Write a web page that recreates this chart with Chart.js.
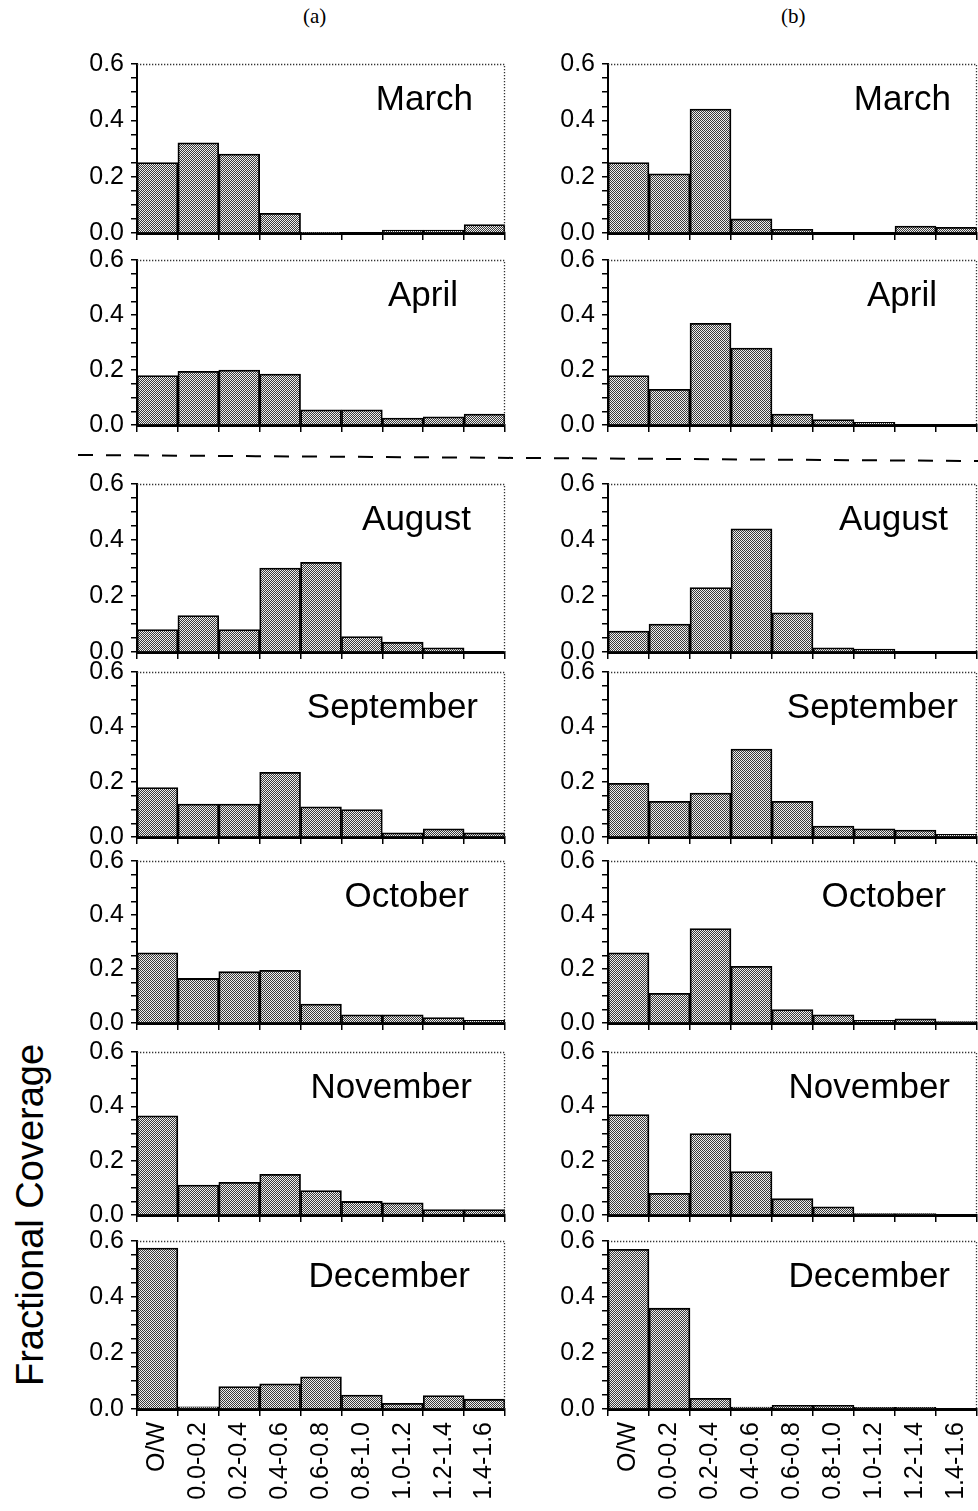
<!DOCTYPE html>
<html>
<head>
<meta charset="utf-8">
<script src="https://cdn.jsdelivr.net/npm/chart.js@4.4.1/dist/chart.umd.min.js"></script>
<style>
  body { margin: 0; width: 978px; height: 1511px; background: #fff; position: relative; overflow: hidden;
         font-family: "Liberation Sans", Arial, sans-serif; }
  canvas { position: absolute; }
  .colhead { position: absolute; top: 4px; font: 21px "Liberation Serif", "Times New Roman", serif; }
  #ytitle { position: absolute; left: 30px; top: 1215px; transform: translate(-50%, -50%) rotate(-90deg);
            font-size: 38px; white-space: nowrap; }
  #divider { position: absolute; left: 0; top: 0; }
</style>
</head>
<body>
<div class="colhead" style="left:303px">(a)</div>
<div class="colhead" style="left:781px">(b)</div>
<div id="ytitle">Fractional Coverage</div>
<svg id="divider" width="978" height="480">
  <line x1="78" y1="455" x2="978" y2="461" stroke="#000" stroke-width="2" stroke-dasharray="15 13"/>
</svg>

<script>
const bins = ['O/W', '0.0-0.2', '0.2-0.4', '0.4-0.6', '0.6-0.8', '0.8-1.0', '1.0-1.2', '1.2-1.4', '1.4-1.6'];
const months = ['March', 'April', 'August', 'September', 'October', 'November', 'December'];
const yTicks = [0, 0.2, 0.4, 0.6];

// column (a)
const marA = [0.25, 0.32, 0.28, 0.07, 0.002, 0.0, 0.01, 0.01, 0.03];
const aprA = [0.18, 0.195, 0.20, 0.185, 0.055, 0.055, 0.025, 0.03, 0.04];
const augA = [0.08, 0.13, 0.08, 0.30, 0.32, 0.055, 0.035, 0.015, 0.0];
const sepA = [0.18, 0.12, 0.12, 0.235, 0.11, 0.10, 0.015, 0.03, 0.015];
const octA = [0.26, 0.165, 0.19, 0.195, 0.07, 0.03, 0.03, 0.02, 0.01];
const novA = [0.365, 0.11, 0.12, 0.15, 0.09, 0.05, 0.045, 0.02, 0.02];
const decA = [0.575, 0.008, 0.08, 0.09, 0.115, 0.05, 0.02, 0.048, 0.035];

// column (b)
const marB = [0.25, 0.21, 0.44, 0.05, 0.013, 0.0, 0.0, 0.025, 0.02];
const aprB = [0.18, 0.13, 0.37, 0.28, 0.04, 0.02, 0.01, 0.0, 0.0];
const augB = [0.075, 0.10, 0.23, 0.44, 0.14, 0.015, 0.01, 0.0, 0.0];
const sepB = [0.195, 0.13, 0.16, 0.32, 0.13, 0.04, 0.03, 0.025, 0.01];
const octB = [0.26, 0.11, 0.35, 0.21, 0.05, 0.03, 0.01, 0.015, 0.005];
const novB = [0.37, 0.08, 0.30, 0.16, 0.06, 0.03, 0.005, 0.005, 0.0];
const decB = [0.57, 0.36, 0.038, 0.007, 0.013, 0.013, 0.006, 0.006, 0.0];

const colA = [marA, aprA, augA, sepA, octA, novA, decA];
const colB = [marB, aprB, augB, sepB, octB, novB, decB];

// panel layout (plot-area edges, px)
const plotTops = [64, 260, 484, 672, 861, 1052, 1241];
const plotBottoms = [233, 425, 652, 837, 1023, 1215, 1409];
const columns = [
  { data: colA, plotLeft: 137, plotRight: 505, inset: [32, 47, 34, 27, 36, 33, 35] },
  { data: colB, plotLeft: 608, plotRight: 977, inset: [26, 40, 29, 19, 31, 27, 27] }
];
const Y_AXIS_W = 60, PAD_TOP = 14, PAD_RIGHT = 3;
const FONT = '"Liberation Sans", Arial, Helvetica, sans-serif';

function stipple() {
  const c = document.createElement('canvas');
  c.width = 2; c.height = 2;
  const g = c.getContext('2d');
  g.fillStyle = '#eeeeee'; g.fillRect(0, 0, 2, 2);
  g.fillStyle = '#3a3a3a'; g.fillRect(0, 0, 1, 1); g.fillRect(1, 1, 1, 1);
  return g.createPattern(c, 'repeat');
}
const fill = stipple();

// keep the plot area exactly where the layout says: no label overhang padding
function noOverhang(s) {
  s.paddingTop = 0; s.paddingBottom = 0; s.paddingLeft = 0; s.paddingRight = 0;
}

// dotted frame on top/right plus the month name
const panelDecor = {
  id: 'panelDecor',
  afterDatasetsDraw(chart, args, opts) {
    const { ctx, chartArea: a } = chart;
    ctx.save();
    ctx.strokeStyle = '#333';
    ctx.lineWidth = 1.3;
    ctx.setLineDash([1.3, 1.7]);
    ctx.beginPath();
    ctx.moveTo(a.left, a.top + 0.5);
    ctx.lineTo(a.right - 0.5, a.top + 0.5);
    ctx.lineTo(a.right - 0.5, a.bottom);
    ctx.stroke();
    ctx.setLineDash([]);
    ctx.fillStyle = '#000';
    ctx.font = '35px ' + FONT;
    ctx.textAlign = 'right';
    ctx.textBaseline = 'alphabetic';
    ctx.fillText(opts.month, a.right - opts.inset, a.top + 46);
    ctx.restore();
  }
};

function makePanel(col, row) {
  const last = row === months.length - 1;
  const xAxisH = last ? 101 : 8;
  const plotW = col.plotRight - col.plotLeft;
  const plotH = plotBottoms[row] - plotTops[row];

  const cv = document.createElement('canvas');
  cv.width = Y_AXIS_W + plotW + PAD_RIGHT;
  cv.height = PAD_TOP + plotH + xAxisH;
  cv.style.left = (col.plotLeft - Y_AXIS_W) + 'px';
  cv.style.top = (plotTops[row] - PAD_TOP) + 'px';
  document.body.appendChild(cv);

  new Chart(cv, {
    type: 'bar',
    data: {
      labels: bins,
      datasets: [{
        data: col.data[row],
        backgroundColor: fill,
        borderColor: '#000',
        borderWidth: 1.8,
        categoryPercentage: 1,
        barPercentage: 1
      }]
    },
    options: {
      responsive: false, animation: false, devicePixelRatio: 1,
      layout: { padding: { top: PAD_TOP, right: PAD_RIGHT, left: 0, bottom: 0 } },
      plugins: {
        legend: { display: false },
        tooltip: { enabled: false },
        panelDecor: { month: months[row], inset: col.inset[row] }
      },
      scales: {
        x: {
          offset: true,
          grid: { offset: true, drawOnChartArea: false, tickLength: 7, color: '#000', lineWidth: 1.5 },
          border: { color: '#000', width: 3 },
          ticks: { display: last, autoSkip: false, minRotation: 90, maxRotation: 90, padding: 6,
                   color: '#000', font: { size: 25, family: FONT } },
          afterFit: s => { s.height = xAxisH; noOverhang(s); }
        },
        y: {
          min: 0, max: 0.6,
          grid: { drawOnChartArea: false, tickLength: 6, color: '#000', lineWidth: 1.5 },
          border: { color: '#000', width: 2 },
          ticks: {
            stepSize: 0.05, autoSkip: false, padding: 7, color: '#000',
            font: { size: 25, family: FONT },
            callback: v => {
              const t = yTicks.find(k => Math.abs(k - v) < 1e-6);
              return t === undefined ? '' : t.toFixed(1);
            }
          },
          afterFit: s => { s.width = Y_AXIS_W; noOverhang(s); }
        }
      }
    },
    plugins: [panelDecor]
  });
}

columns.forEach(col => months.forEach((m, row) => makePanel(col, row)));
</script>
</body>
</html>
